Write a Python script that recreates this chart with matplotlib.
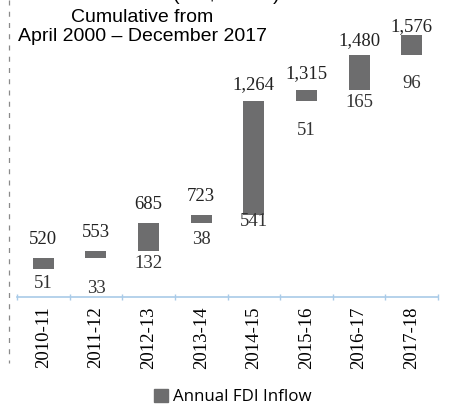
import matplotlib
matplotlib.use("Agg")
import matplotlib.pyplot as plt
from matplotlib.lines import Line2D
from matplotlib.patches import Patch
import numpy as np

# Data
years = ["2010-11", "2011-12", "2012-13", "2013-14", "2014-15", "2015-16", "2016-17", "2017-18"]
cumulative = [520, 553, 685, 723, 1264, 1315, 1480, 1576]
annual = [51, 33, 132, 38, 541, 51, 165, 96]

# label offsets (points) as placed in the original
top_off = [13, 13, 13, 13, 12, 12, 11, 6]
bot_off = [11, 22, 9, 12, 5, 21, 9, 20]

BAR = "#6d6d6e"
SERIF = "Liberation Serif"

fig = plt.figure(figsize=(4.49, 4.07), dpi=100)
W, H = 449, 407
ax = fig.add_axes([17 / W, 1 - 297 / H, (438 - 17) / W, 297 / H])

x = np.arange(len(years))
base = [c - a for c, a in zip(cumulative, annual)]
ax.bar(x, annual, bottom=base, width=0.4, color=BAR, label="Annual FDI Inflow")

for i in range(len(years)):
    ax.annotate(f"{cumulative[i]:,}", xy=(x[i], cumulative[i]), xytext=(0, top_off[i]),
                textcoords="offset points", ha="center", va="center",
                fontsize=13.5, family=SERIF, color="#222222")
    ax.annotate(f"{annual[i]:,}", xy=(x[i], base[i]), xytext=(0, -bot_off[i]),
                textcoords="offset points", ha="center", va="center",
                fontsize=13.5, family=SERIF, color="#333333")

ax.set_xlim(-0.5, len(years) - 0.5)
ax.set_ylim(334, 1743)
for s in ["top", "right", "left"]:
    ax.spines[s].set_visible(False)
ax.spines["bottom"].set_color("#a9cbe8")
ax.spines["bottom"].set_linewidth(1.2)
ax.set_yticks([])

ax.set_xticks(x)
ax.set_xticklabels(years, rotation=90, fontsize=13.5, family=SERIF)
ax.tick_params(axis="x", which="major", length=0, pad=7)
ax.set_xticks(np.arange(-0.5, len(years)), minor=True)
ax.tick_params(axis="x", which="minor", direction="inout", length=5, color="#a9cbe8", width=1)

# title text in the upper left
fig.text(142.5 / W, 1 - 27 / H, "Cumulative from\nApril 2000 \u2013 December 2017",
         ha="center", va="center", multialignment="center",
         fontsize=14, family="Liberation Sans", linespacing=1.1)
fig.text(226 / W, 1 + 5 / H, "(US$ billion)", ha="center", va="center",
         fontsize=14, family="Liberation Sans")

# dashed frame line on the left
fig.add_artist(Line2D([9 / W, 9 / W], [1, 1 - 363 / H], transform=fig.transFigure,
                      color="#8a8a8a", lw=0.9, linestyle=(0, (4, 5))))

fig.legend(handles=[Patch(color=BAR, label="Annual FDI Inflow")], loc="center",
           bbox_to_anchor=(233 / W, 1 - 397 / H), frameon=False,
           prop={"family": "Open Sans", "size": 12.2}, handlelength=0.8, handleheight=0.8,
           handletextpad=0.3)

fig.savefig("out.png", dpi=100)
